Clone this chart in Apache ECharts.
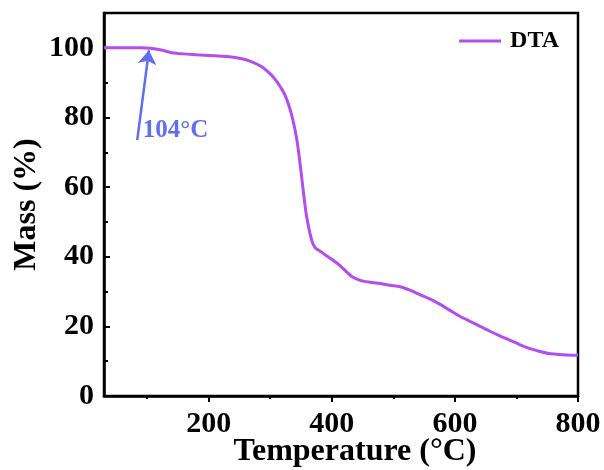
<!DOCTYPE html>
<html>
<head>
<meta charset="utf-8">
<script src="https://cdn.jsdelivr.net/npm/echarts@6/dist/echarts.min.js"></script>
<style>
  html, body { margin: 0; padding: 0; background: #fff; }
  #chart { width: 604px; height: 470px; }
</style>
</head>
<body>
<div id="chart"></div>
<script>
// TGA curve
const temps = [30, 60, 90, 105, 125, 140, 150, 180, 200, 230, 250, 267, 285, 300, 310, 324, 335, 343, 348, 354, 359, 367, 373, 382, 392, 402, 411, 422, 432, 442, 451, 465, 478, 495, 511, 527, 543, 560, 576, 592, 608, 625, 641, 657, 673, 690, 706, 722, 738, 752, 765, 780, 800];
const mass = [100, 100, 100, 99.9, 99.3, 98.6, 98.4, 98.0, 97.8, 97.5, 97.0, 96.2, 94.7, 92.5, 90.5, 86.4, 80.6, 73.9, 67.5, 58.5, 51.7, 45.0, 42.6, 41.5, 40.2, 39.0, 37.8, 36.0, 34.4, 33.5, 33.0, 32.6, 32.3, 31.8, 31.4, 30.4, 29.1, 27.8, 26.3, 24.6, 22.9, 21.4, 20.0, 18.6, 17.3, 16.0, 14.7, 13.6, 12.8, 12.2, 12.0, 11.8, 11.7];

const xLabels = [200, 400, 600, 800];
const xMinor = [100, 300, 500, 700];
const yLabels = [0, 20, 40, 60, 80, 100];
const yMinor = [10, 30, 50, 70, 90];

// arrow pointing at the onset
const arrowFrom = [84, 73.5];
const arrowTo = [103, 99.3];
const onsetText = '104°C';
const onsetAt = [93, 76.3];

const font = 'Liberation Serif';
const chart = echarts.init(document.getElementById('chart'));

chart.setOption({
  animation: false,
  grid: {
    left: 104, right: 26, top: 13, bottom: 74,
    outerBoundsMode: 'none', containLabel: false,
    show: true, borderColor: '#000', borderWidth: 2.5
  },
  legend: {
    top: 24, right: 40,
    icon: 'rect',
    itemWidth: 42, itemHeight: 3, itemGap: 10,
    textStyle: { fontFamily: font, fontWeight: 'bold', fontSize: 24, color: '#000', padding: [0, 0, 0, 4] },
    data: ['DTA']
  },
  xAxis: [
    {
      type: 'value', min: 30, max: 800,
      name: 'Temperature (°C)', nameLocation: 'middle', nameGap: 40, nameMoveOverlap: false,
      nameTextStyle: { fontFamily: font, fontWeight: 'bold', fontSize: 32, color: '#000', padding: [0, 0, 0, 28] },
      axisLine: { lineStyle: { color: '#000', width: 2.5 } },
      axisTick: { show: true, customValues: xLabels, length: 6, lineStyle: { color: '#000', width: 2 } },
      axisLabel: { customValues: xLabels, margin: 13, fontFamily: font, fontWeight: 'bold', fontSize: 30, color: '#000' },
      splitLine: { show: false }
    },
    {
      type: 'value', min: 30, max: 800, position: 'bottom',
      axisLine: { show: false },
      axisTick: { show: true, customValues: xMinor, length: 3, lineStyle: { color: '#000', width: 2 } },
      axisLabel: { show: false },
      splitLine: { show: false }
    }
  ],
  yAxis: [
    {
      type: 'value', min: 0, max: 110,
      name: 'Mass (%)', nameLocation: 'middle', nameGap: 61, nameMoveOverlap: false,
      nameTextStyle: { fontFamily: font, fontWeight: 'bold', fontSize: 32, color: '#000' },
      axisLine: { show: true, lineStyle: { color: '#000', width: 2.5 } },
      axisTick: { show: true, inside: true, customValues: yLabels, length: 6, lineStyle: { color: '#000', width: 2 } },
      axisLabel: { customValues: yLabels, margin: 10, fontFamily: font, fontWeight: 'bold', fontSize: 30, color: '#000' },
      splitLine: { show: false }
    },
    {
      type: 'value', min: 0, max: 110, position: 'left',
      axisLine: { show: false },
      axisTick: { show: true, inside: true, customValues: yMinor, length: 4, lineStyle: { color: '#000', width: 2 } },
      axisLabel: { show: false },
      splitLine: { show: false }
    }
  ],
  series: [
    {
      name: 'DTA',
      type: 'line',
      xAxisIndex: 0, yAxisIndex: 0,
      data: temps.map((t, i) => [t, mass[i]]),
      symbol: 'none',
      smooth: 0.3,
      lineStyle: { color: '#b44cf0', width: 3 },
      itemStyle: { color: '#b44cf0' },
      markLine: {
        silent: true,
        symbol: ['none', 'arrow'],
        symbolSize: 14,
        lineStyle: { color: '#5f6ff0', width: 2.5, type: 'solid' },
        label: { show: false },
        data: [[{ coord: arrowFrom }, { coord: arrowTo }]]
      },
      markPoint: {
        silent: true,
        symbol: 'circle', symbolSize: 0,
        label: {
          show: true, position: 'right', distance: 0,
          formatter: onsetText,
          fontFamily: font, fontWeight: 'bold', fontSize: 25, color: '#5f6ff0'
        },
        data: [{ coord: onsetAt }]
      }
    }
  ]
});
</script>
</body>
</html>
